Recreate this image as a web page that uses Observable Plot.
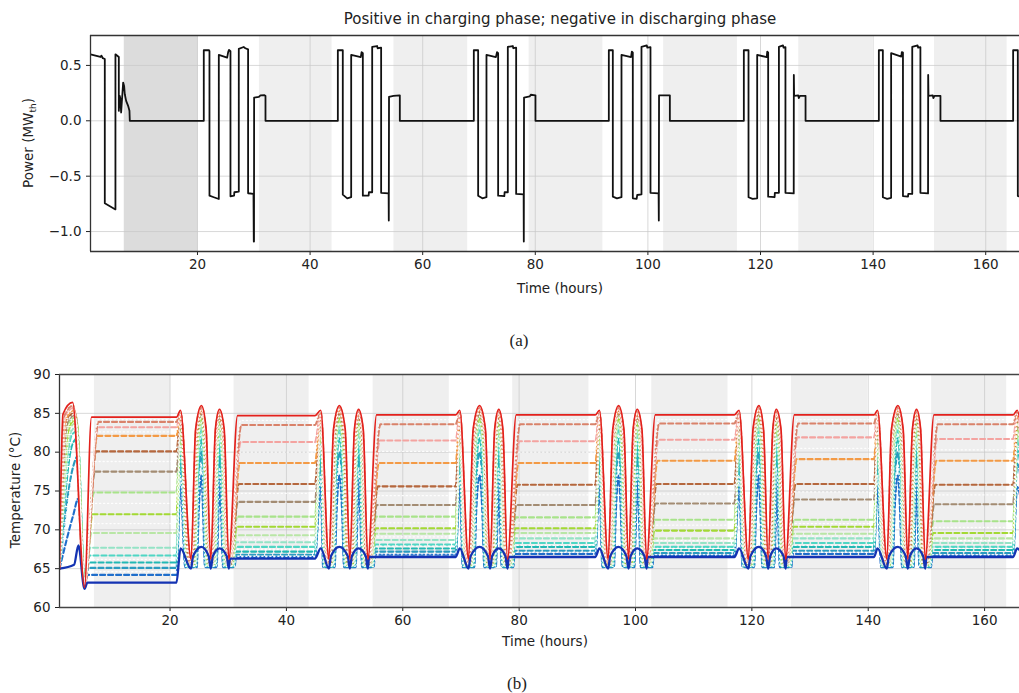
<!DOCTYPE html>
<html><head><meta charset="utf-8">
<script src="https://cdn.jsdelivr.net/npm/d3@7"></script>
<script src="https://cdn.jsdelivr.net/npm/@observablehq/plot@0.6"></script>
<style>
body{margin:0;background:#fff;font-family:"DejaVu Sans",sans-serif;}
#wrap{position:relative;width:1019px;height:693px;overflow:hidden;background:#fff;}
.abs{position:absolute;white-space:nowrap;color:#222;line-height:1;}
svg{position:absolute;left:0;}
</style></head><body><div id="wrap"></div>
<script>
// ---------- shared axis / schedule data ----------
const xTicks = [20, 40, 60, 80, 100, 120, 140, 160];
const powerTicks = [-1.0, -0.5, 0.0, 0.5];
const tempTicks = [60, 65, 70, 75, 80, 85, 90];
const idleSpanStart = [7.0, 31.0, 54.9, 78.9, 102.8, 126.8, 150.9];
const idleSpanEnd   = [20.1, 43.9, 68.0, 92.0, 115.9, 139.9, 163.8];

// ---------- panel (a): thermal power [hour, MW_th] ----------
const powerSeries = [
 [1.0,0.600],[2.77,0.576],[2.95,0.588],[3.19,0.565],[3.54,0.558],[3.54,-0.745],[5.43,-0.800],[5.43,0.600],[6.03,0.576],[6.03,0.090],[6.20,0.225],[6.30,0.200],[6.44,0.075],[6.80,0.345],[6.97,0.315],[7.09,0.240],[7.33,0.180],[7.68,0.135],[7.92,0.090],[7.98,0.000],
 [21.12,0.000],[21.12,0.637],[22.05,0.637],[22.13,0.628],[22.13,-0.676],[22.9,-0.690],[23.79,-0.706],[23.79,0.595],[25.27,0.570],[25.45,0.620],[25.6,0.640],[25.86,0.628],[25.86,-0.682],[26.5,-0.675],[26.55,-0.645],[27.34,-0.640],[27.34,0.650],[28.2,0.666],[28.5,0.655],[28.99,0.645],[28.99,-0.654],[29.95,-0.660],[30.0,-1.090],[30.04,-1.090],[30.06,0.210],[30.9,0.215],[31.2,0.230],[31.9,0.232],[32.08,0.225],[32.08,0.000],
 [44.93,0.000],[44.93,0.637],[45.81,0.637],[45.81,-0.667],[46.6,-0.700],[47.30,-0.690],[47.30,0.595],[49.0,0.575],[49.15,0.620],[49.37,0.610],[49.37,-0.676],[50.4,-0.676],[50.45,-0.645],[51.03,-0.645],[51.03,0.667],[51.9,0.675],[52.0,0.655],[52.62,0.660],[52.62,-0.650],[53.95,-0.655],[53.98,-0.900],[54.02,0.216],[54.8,0.225],[55.94,0.230],[55.94,0.000],
 [69.08,0.000],[69.08,0.637],[69.85,0.637],[69.85,-0.676],[70.6,-0.700],[71.33,-0.690],[71.33,0.595],[73.0,0.575],[73.2,0.620],[73.40,0.610],[73.40,-0.676],[74.5,-0.680],[74.55,-0.645],[75.12,-0.645],[75.12,0.667],[76.0,0.675],[76.1,0.655],[76.60,0.660],[76.60,-0.660],[77.93,-0.665],[77.96,-1.090],[78.00,0.210],[79.0,0.220],[79.2,0.235],[80.03,0.230],[80.03,0.000],
 [93.06,0.000],[93.06,0.637],[93.77,0.637],[93.77,-0.685],[94.5,-0.700],[95.31,-0.690],[95.31,0.595],[97.0,0.575],[97.15,0.625],[97.32,0.615],[97.32,-0.700],[98.0,-0.705],[98.1,-0.670],[98.86,-0.665],[98.86,0.667],[99.8,0.680],[99.9,0.660],[100.46,0.665],[100.46,-0.650],[101.9,-0.655],[101.94,-0.900],[101.98,0.230],[103.9,0.230],[103.9,0.000],
 [117.04,0.000],[117.04,0.637],[117.87,0.637],[117.87,-0.690],[118.6,-0.705],[119.41,-0.700],[119.41,0.595],[121.1,0.575],[121.2,0.625],[121.36,0.615],[121.36,-0.685],[122.5,-0.690],[122.55,-0.650],[123.27,-0.650],[123.27,0.667],[124.0,0.680],[124.1,0.660],[124.43,0.665],[124.43,-0.650],[125.90,-0.655],[125.92,0.414],[125.97,0.225],[126.7,0.230],[126.8,0.205],[127.0,0.225],[128.0,0.225],[128.0,0.000],
 [141.02,0.000],[141.02,0.637],[141.73,0.637],[141.73,-0.690],[142.5,-0.705],[143.2,-0.695],[143.2,0.610],[145.0,0.580],[145.1,0.620],[145.3,0.615],[145.3,-0.680],[146.2,-0.685],[146.25,-0.660],[146.95,-0.660],[146.95,0.667],[147.9,0.680],[148.0,0.660],[148.4,0.665],[148.4,-0.650],[149.76,-0.655],[149.78,0.414],[149.83,0.225],[150.6,0.230],[150.7,0.205],[150.9,0.225],[151.96,0.225],[151.96,0.000],
 [164.87,0.000],[164.87,0.637],[165.7,0.637],[165.7,-0.680],[167.0,-0.690]
];

// ---------- panel (b): layer temperatures ----------
// operating-cycle key times (hours)
const cycleStart  = [21.1, 44.9, 69.1, 93.1, 117.0, 141.0, 164.9];
const spikeTime   = [21.8, 45.9, 69.8, 93.8, 117.8, 141.6, 165.6];
const trough1Time = [23.6, 47.3, 71.3, 95.3, 119.4, 143.2];
const peak2Time   = [25.4, 49.1, 73.2, 97.1, 121.2, 145.1];
const trough2Time = [27.0, 50.9, 75.0, 98.8, 122.8, 146.8];
const peak3Time   = [28.5, 52.4, 76.5, 100.3, 124.2, 148.3];
const trough3Time = [30.1, 54.0, 78.0, 101.9, 125.8, 149.8];

// 15 coloured layers, top (red) to bottom (blue)
const layerColors = ["#e3211c","#d9826a","#f4a3a0","#f39a45","#b5673d","#a38c73","#a8e38a","#a3d934","#b9e6a6","#95e3c6","#4fd6c4","#22b8b4","#2a9bc0","#1f6ecb","#1433b3"];
const layerPlateaus = [
 [84.5, 83.9, 83.2, 82.1, 80.1, 77.5, 74.8, 72.0, 69.6, 67.7, 66.7, 65.8, 65.1, 64.2, 63.2],
 [84.7, 83.5, 81.3, 78.6, 75.9, 73.6, 71.7, 70.4, 69.3, 68.4, 67.8, 67.2, 66.8, 66.5, 66.3],
 [84.8, 83.6, 81.5, 78.6, 75.6, 73.2, 71.7, 70.2, 69.5, 68.7, 68.1, 67.6, 67.2, 66.8, 66.5],
 [84.8, 83.6, 81.4, 78.6, 75.8, 73.2, 71.6, 70.2, 69.6, 68.9, 68.3, 67.8, 67.3, 66.9, 66.5],
 [84.8, 83.7, 81.6, 78.9, 75.9, 73.4, 71.3, 69.9, 68.9, 68.3, 67.8, 67.4, 67.0, 66.7, 66.5],
 [84.8, 83.7, 81.9, 79.1, 75.9, 73.9, 71.3, 70.4, 69.5, 68.9, 68.3, 67.8, 67.3, 66.9, 66.5],
 [84.8, 83.6, 81.7, 78.9, 75.8, 73.3, 71.1, 69.6, 68.9, 68.3, 67.8, 67.4, 67.0, 66.7, 66.5]
];
const layerSpike    = [85.4, 85.2, 85.0, 84.8, 84.5, 84.2, 83.9, 83.5, 83.0, 82.3, 81.5, 80.3, 78.5, 75.5, 67.6];
const layerPeak2    = [86.0, 85.8, 85.6, 85.4, 85.2, 85.0, 84.7, 84.4, 84.0, 83.5, 82.8, 81.8, 80.0, 77.0, 67.8];
const layerPeak3    = [85.5, 85.3, 85.1, 84.9, 84.7, 84.5, 84.2, 83.9, 83.5, 83.0, 82.3, 81.3, 79.5, 76.5, 67.6];
const layerShoulder = [83.0, 82.8, 82.6, 82.4, 82.1, 81.8, 81.4, 81.0, 80.4, 79.7, 78.8, 77.6, 75.6, 72.6, 66.6];
const layerTrough   = [66.2, 66.0, 65.9, 65.8, 65.7, 65.6, 65.6, 65.5, 65.5, 65.4, 65.4, 65.3, 65.3, 65.2, 65.0];
const layerInset    = [0.00, 0.07, 0.14, 0.21, 0.28, 0.35, 0.42, 0.50, 0.58, 0.66, 0.74, 0.82, 0.90, 0.98, 0.00];
const layerShoulderLag = [0.80, 0.78, 0.75, 0.72, 0.69, 0.66, 0.63, 0.60, 0.56, 0.52, 0.48, 0.44, 0.40, 0.36, 0.35];
const layerRamp1    = [1.2, 2.4, 2.3, 2.2, 2.0, 1.8, 1.6, 1.4, 1.2, 1.0, 0.9, 0.8, 0.7, 0.6, 0.5];
const layerRamp     = [1.5, 2.1, 1.9, 1.7, 1.45, 1.2, 1.0, 0.85, 0.7, 0.55, 0.45, 0.35, 0.3, 0.25, 0.2];
const layerStartHighTime = [1.6, 1.8, 1.95, 2.1, 2.25, 2.4, 2.55, 2.7, 2.85, 3.0, 3.1, 3.2, 3.3, 3.4, 3.5];
const layerStartHigh     = [84.9, 84.7, 84.5, 84.3, 84.1, 83.9, 83.7, 83.4, 83.1, 82.7, 82.2, 81.0, 78.0, 72.0, 65.5];
const layerStartPeakTime = [3.25, 3.35, 3.45, 3.55, 3.65, 3.75, 3.85, 3.9, 3.95, 4.0, 4.05, 4.1, 4.15, 4.2, 4.25];
const layerStartPeak     = [86.4, 86.0, 85.7, 85.4, 85.1, 84.8, 84.5, 84.2, 83.8, 83.3, 82.7, 81.8, 79.5, 74.0, 68.0];
const layerStartTrough   = [62.6, 62.7, 62.8, 62.9, 63.0, 63.1, 63.2, 63.3, 63.4, 63.5, 63.5, 63.5, 63.4, 63.3, 62.4];

// 7 white dotted layers
const whitePlateaus = [
 [84.2, 82.6, 78.8, 73.4, 70.8, 66.2, 64.6],
 [84.1, 80.0, 74.7, 71.0, 68.8, 67.5, 66.6],
 [84.2, 80.1, 74.4, 70.9, 69.1, 67.9, 66.9],
 [84.2, 80.0, 74.5, 70.9, 69.2, 68.0, 67.1],
 [84.2, 80.3, 74.6, 70.6, 68.6, 67.6, 66.8],
 [84.2, 80.5, 74.9, 70.8, 69.2, 68.0, 67.1],
 [84.2, 80.3, 74.5, 70.3, 68.6, 67.6, 66.8]
];
const whiteSpike    = [85.3, 84.9, 84.3, 83.7, 82.6, 80.8, 77.0];
const whitePeak2    = [85.9, 85.5, 85.1, 84.6, 83.8, 82.3, 78.5];
const whitePeak3    = [85.4, 85.0, 84.6, 84.1, 83.3, 81.8, 78.0];
const whiteShoulder = [82.9, 82.5, 82.0, 81.4, 80.6, 78.8, 74.8];
const whiteTrough   = [66.1, 65.9, 65.7, 65.6, 65.5, 65.4, 65.3];
const whiteInset    = [0.03, 0.17, 0.31, 0.46, 0.62, 0.78, 0.94];
const whiteShoulderLag = [0.79, 0.74, 0.68, 0.62, 0.54, 0.46, 0.38];
const whiteRamp1    = [2.3, 2.1, 1.7, 1.3, 1.0, 0.8, 0.6];
const whiteRamp     = [2.0, 1.6, 1.1, 0.8, 0.5, 0.4, 0.3];
const whiteStartHighTime = [1.7, 2.0, 2.3, 2.6, 2.9, 3.15, 3.35];
const whiteStartHigh     = [84.8, 84.4, 84.0, 83.5, 82.9, 81.5, 77.0];
const whiteStartPeakTime = [3.3, 3.5, 3.7, 3.85, 3.95, 4.05, 4.15];
const whiteStartPeak     = [86.2, 85.5, 84.9, 84.3, 83.5, 82.2, 78.5];
const whiteStartTrough   = [62.7, 62.9, 63.1, 63.3, 63.5, 63.5, 63.3];

function buildLayer(i, P) {
  const d = P.inset[i], sl = P.shoulderLag[i], lo = P.trough[i], sh = P.shoulder[i];
  const pts = [[1.0, 65.0],
    [P.startHighTime[i], P.startHigh[i]],
    [P.startPeakTime[i], P.startPeak[i]],
    [5.3, P.startTrough[i]],
    [5.3 + P.ramp1[i], P.plateaus[0][i]]];
  const valley = t => { if (d > 0) pts.push([t - d, lo]); pts.push([t + d, lo]); };
  for (let k = 0; k < cycleStart.length; k++) {
    pts.push([cycleStart[k], P.plateaus[k][i]]);
    pts.push([spikeTime[k], P.spike[i]]);
    if (k === cycleStart.length - 1) { pts.push([167.4, lo]); break; }
    valley(trough1Time[k]);
    pts.push([trough1Time[k] + d + sl, sh], [peak2Time[k], P.peak2[i]], [trough2Time[k] - d - sl, sh]);
    valley(trough2Time[k]);
    pts.push([trough2Time[k] + d + sl, sh], [peak3Time[k], P.peak3[i]], [trough3Time[k] - d - sl, sh]);
    valley(trough3Time[k]);
    pts.push([trough3Time[k] + d + P.ramp[i], P.plateaus[k + 1][i]]);
  }
  return pts;
}
const colouredP = {plateaus: layerPlateaus, spike: layerSpike, peak2: layerPeak2, peak3: layerPeak3, shoulder: layerShoulder,
  trough: layerTrough, inset: layerInset, shoulderLag: layerShoulderLag,
  ramp1: layerRamp1, ramp: layerRamp, startHighTime: layerStartHighTime, startHigh: layerStartHigh,
  startPeakTime: layerStartPeakTime, startPeak: layerStartPeak, startTrough: layerStartTrough};
const whiteP = {plateaus: whitePlateaus, spike: whiteSpike, peak2: whitePeak2, peak3: whitePeak3, shoulder: whiteShoulder,
  trough: whiteTrough, inset: whiteInset, shoulderLag: whiteShoulderLag,
  ramp1: whiteRamp1, ramp: whiteRamp, startHighTime: whiteStartHighTime, startHigh: whiteStartHigh,
  startPeakTime: whiteStartPeakTime, startPeak: whiteStartPeak, startTrough: whiteStartTrough};

// ---------- drawing ----------
const wrap = document.getElementById("wrap");
const spans = idleSpanStart.map((s, i) => ({start: s, end: idleSpanEnd[i]}));
const fontStyle = {fontSize: "13.5px", fontFamily: "DejaVu Sans", color: "#222", background: "transparent", overflow: "visible"};
const minus = d => d.toFixed(1).replace("-", "\u2212");

const topChart = Plot.plot({
  width: 1019, height: 300, marginLeft: 90, marginRight: 0, marginTop: 35, marginBottom: 49,
  style: fontStyle,
  x: {domain: [1, 166], label: null},
  y: {domain: [-1.18, 0.77], label: null},
  marks: [
    Plot.rect(spans.slice(0, 1), {x1: "start", x2: "end", fill: "#dcdcdc"}),
    Plot.rect(spans.slice(1), {x1: "start", x2: "end", fill: "#efefef"}),
    Plot.gridX(xTicks, {stroke: "#c8c8c8", strokeOpacity: 0.7}),
    Plot.gridY(powerTicks, {stroke: "#c8c8c8", strokeOpacity: 0.7}),
    Plot.line(powerSeries, {x: d => d[0], y: d => d[1], stroke: "#111", strokeWidth: 1.8, clip: true}),
    Plot.axisX(xTicks, {tickSize: 4, tickPadding: 4, label: null, tickFormat: d => String(d)}),
    Plot.axisY(powerTicks, {tickSize: 4, tickPadding: 5, label: null, tickFormat: minus}),
    Plot.ruleX([1], {stroke: "#333", strokeWidth: 1.3}),
    Plot.ruleY([0.77, -1.18], {stroke: "#333", strokeWidth: 1.3})
  ]
});
topChart.style.top = "0px";
wrap.appendChild(topChart);

const tempMarks = [
  Plot.rect(spans, {x1: "start", x2: "end", fill: "#efefef"}),
  Plot.gridX(xTicks, {stroke: "#c8c8c8", strokeOpacity: 0.7}),
  Plot.gridY(tempTicks.slice(1, -1), {stroke: "#c8c8c8", strokeOpacity: 0.7})
];
for (let i = 13; i >= 1; i--) {
  tempMarks.push(Plot.line(buildLayer(i, colouredP), {x: d => d[0], y: d => d[1], curve: "monotone-x",
    stroke: layerColors[i], strokeWidth: 2.1, strokeDasharray: "5,3", clip: true}));
}
for (let j = 0; j < whiteSpike.length; j++) {
  tempMarks.push(Plot.line(buildLayer(j, whiteP), {x: d => d[0], y: d => d[1], curve: "monotone-x",
    stroke: "#ffffff", strokeWidth: 1.3, strokeDasharray: "1.2,2.8", strokeOpacity: 0.9, clip: true}));
}
tempMarks.push(Plot.line(buildLayer(14, colouredP), {x: d => d[0], y: d => d[1], curve: "monotone-x",
  stroke: layerColors[14], strokeWidth: 2.3, clip: true}));
tempMarks.push(Plot.line(buildLayer(0, colouredP), {x: d => d[0], y: d => d[1], curve: "monotone-x",
  stroke: layerColors[0], strokeWidth: 1.7, clip: true}));
tempMarks.push(
  Plot.axisX(xTicks, {tickSize: 4, tickPadding: 4, label: null, tickFormat: d => String(d)}),
  Plot.axisY(tempTicks, {tickSize: 4, tickPadding: 5, label: null, tickFormat: d => String(d)}),
  Plot.ruleX([1], {stroke: "#333", strokeWidth: 1.3}),
  Plot.ruleY([90, 60], {stroke: "#444", strokeWidth: 1.3})
);

const bottomChart = Plot.plot({
  width: 1019, height: 300, marginLeft: 59, marginRight: 0, marginTop: 30, marginBottom: 37,
  style: fontStyle,
  x: {domain: [1, 166], label: null},
  y: {domain: [60, 90], label: null},
  marks: tempMarks
});
bottomChart.style.top = "344px";
wrap.appendChild(bottomChart);

function label(html, cx, cy, css, rotate) {
  const d = document.createElement("div");
  d.className = "abs";
  d.innerHTML = html;
  d.style.left = cx + "px";
  d.style.top = cy + "px";
  d.style.transform = "translate(-50%,-50%)" + (rotate ? " rotate(-90deg)" : "");
  Object.assign(d.style, css);
  wrap.appendChild(d);
}
label("Positive in charging phase; negative in discharging phase", 560, 19, {fontSize: "15px"});
label("Power (MW<sub style='font-size:9px'>th</sub>)", 30, 143, {fontSize: "13.5px"}, true);
label("Time (hours)", 560, 289, {fontSize: "13.5px"});
label("(a)", 519, 340, {fontSize: "17px", fontFamily: "'Liberation Serif', serif"});
label("Temperature (\u00B0C)", 16, 490, {fontSize: "13.5px"}, true);
label("Time (hours)", 545, 642, {fontSize: "13.5px"});
label("(b)", 517, 683, {fontSize: "17px", fontFamily: "'Liberation Serif', serif"});
</script></body></html>
